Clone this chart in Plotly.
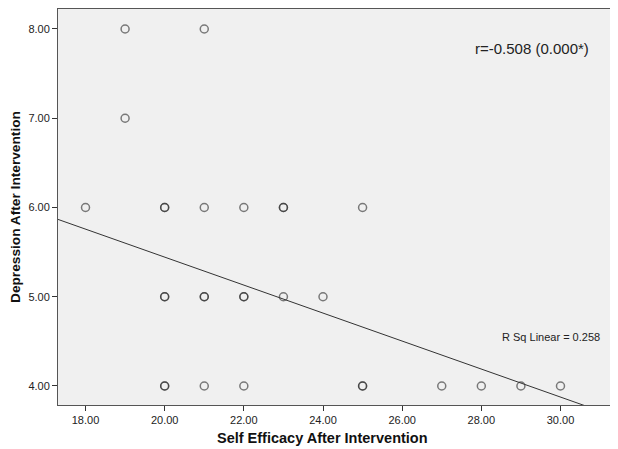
import plotly.graph_objects as go

# Data (duplicated points reflect overplotted darker circles)
self_efficacy = [19, 21, 19, 18, 20, 20, 21, 22, 23, 23, 25,
                 20, 20, 21, 21, 22, 22, 23, 24,
                 20, 20, 21, 22, 25, 25, 27, 28, 29, 30]
depression = [8, 8, 7, 6, 6, 6, 6, 6, 6, 6, 6,
              5, 5, 5, 5, 5, 5, 5, 5,
              4, 4, 4, 4, 4, 4, 4, 4, 4, 4]

# Fit line coefficients
fit_intercept = 8.580
fit_slope = -0.1568
x_range = [17.305, 31.655]
y_range = [3.787, 8.224]

x_ticks = [18, 20, 22, 24, 26, 28, 30]
y_ticks = [4, 5, 6, 7, 8]

FONT = "Liberation Sans, Arial"

fig = go.Figure()
fig.add_trace(go.Scatter(
    x=self_efficacy, y=depression, mode="markers",
    marker=dict(symbol="circle-open", size=8, color="rgba(40,40,40,0.6)",
                line=dict(width=1.5, color="rgba(40,40,40,0.6)")),
    showlegend=False, hoverinfo="x+y"))

lx = [x_range[0], x_range[1]]
ly = [fit_intercept + fit_slope * v for v in lx]
fig.add_trace(go.Scatter(x=lx, y=ly, mode="lines",
                         line=dict(color="#333333", width=1),
                         showlegend=False, hoverinfo="skip"))

axis_common = dict(showgrid=False, zeroline=False, showline=True, mirror=True,
                   linecolor="#555555", linewidth=1, ticks="outside", ticklen=5,
                   tickcolor="#333333", automargin=False,
                   tickfont=dict(family=FONT, size=11, color="#222222"))

fig.update_xaxes(range=x_range, tickvals=x_ticks,
                 ticktext=[f"{v:.2f}" for v in x_ticks], **axis_common)
fig.update_yaxes(range=y_range, tickvals=y_ticks,
                 ticktext=[f"{v:.2f}" for v in y_ticks], **axis_common)

fig.add_annotation(x=0.466, y=-0.083, xref="paper", yref="paper",
                   text="<b>Self Efficacy After Intervention</b>", showarrow=False,
                   xanchor="center", yanchor="middle",
                   font=dict(family=FONT, size=14.5, color="#111111"))
fig.add_annotation(x=-0.0757, y=0.5, xref="paper", yref="paper",
                   text="<b>Depression After Intervention</b>", showarrow=False,
                   textangle=-90, xanchor="center", yanchor="middle",
                   font=dict(family=FONT, size=13.7, color="#111111"))

fig.add_annotation(x=0.938, y=0.90, xref="paper", yref="paper",
                   text="r=-0.508 (0.000*)", showarrow=False,
                   xanchor="right", yanchor="middle",
                   font=dict(family=FONT, size=15, color="#222222"))
fig.add_annotation(x=0.958, y=0.172, xref="paper", yref="paper",
                   text="R Sq Linear = 0.258", showarrow=False,
                   xanchor="right", yanchor="middle",
                   font=dict(family=FONT, size=11, color="#222222"))

# page body has an 8px default margin, so margins are offset to compensate;
# the plot area runs off the right edge as in the reference
fig.update_layout(width=618, height=449,
                  margin=dict(l=50, r=0, t=1, b=52),
                  plot_bgcolor="#f0f0f0", paper_bgcolor="white")

fig.write_html("out.html")
